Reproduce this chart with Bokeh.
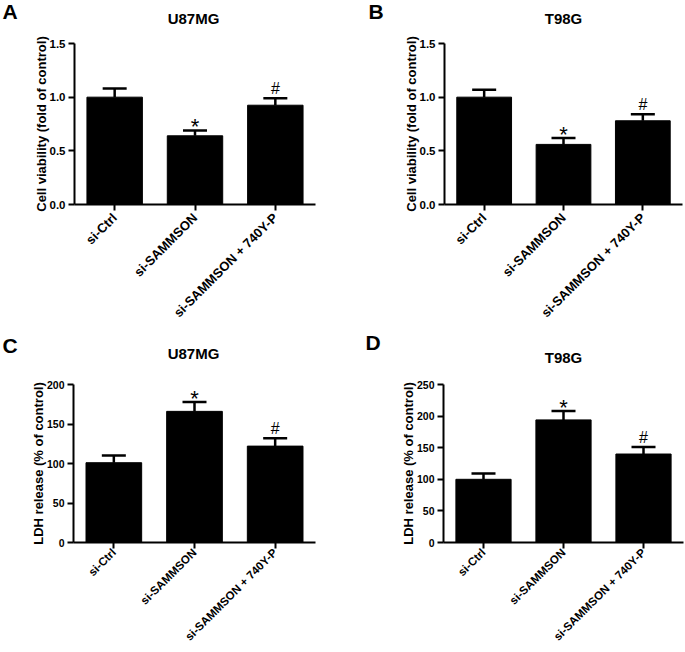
from bokeh.plotting import figure
from bokeh.layouts import column, row
from bokeh.models import (Range1d, FactorRange, FixedTicker, Whisker, TeeHead,
                          ColumnDataSource, PrintfTickFormatter, BasicTickFormatter)
from bokeh.core.properties import value
from bokeh.embed import file_html
from bokeh.resources import INLINE

# ---------------- data ----------------
categories = ["si-Ctrl", "si-SAMMSON", "si-SAMMSON + 740Y-P"]
marks = ["", "*", "#"]

a_means = [1.00, 0.64, 0.925]
a_upper = [1.08, 0.69, 0.99]
b_means = [1.00, 0.56, 0.78]
b_upper = [1.07, 0.62, 0.84]
c_means = [101, 166, 122]
c_upper = [110, 178, 132]
d_means = [100, 194, 140]
d_upper = [109, 208, 151]

viability_ticks = [0, 0.5, 1.0, 1.5]
ldh_ticks_c = [0, 50, 100, 150, 200]
ldh_ticks_d = [0, 50, 100, 150, 200, 250]

panel_letters = ["A", "B", "C", "D"]
panel_titles = ["U87MG", "T98G", "U87MG", "T98G"]
ylabels = ["Cell viability (fold of control)", "LDH release (% of control)"]

FONT = "Liberation Sans"
mark_style = {"*": ("22px", 9), "#": ("16px", -1)}
TOTAL_W = 684


def panel(ylabel, means, upper, ticks, fmt, W, H, bl, br, bt, bb, tick_fs, xlab_fs, xstand):
    y0, y1 = ticks[0], ticks[-1]
    p = figure(width=W, height=H, output_backend="svg", toolbar_location=None,
               x_range=FactorRange(factors=categories, range_padding=0),
               y_range=Range1d(y0, y1),
               min_border_left=bl, min_border_right=br,
               min_border_top=bt, min_border_bottom=bb,
               background_fill_color="white", border_fill_color="white")
    p.outline_line_color = None
    p.grid.visible = False

    src = ColumnDataSource(dict(cat=categories, top=means, upper=upper))
    p.vbar(x="cat", top="top", width=0.69, source=src,
           fill_color="black", line_color="black", line_width=1)
    wh = Whisker(source=src, base="cat", upper="upper", lower="top",
                 dimension="height", line_color="black", line_width=2.5,
                 upper_head=TeeHead(size=24, line_color="black", line_width=2.5),
                 lower_head=None)
    p.add_layout(wh)

    for sym, (fs, dy) in mark_style.items():
        idx = [i for i, m in enumerate(marks) if m == sym]
        msrc = ColumnDataSource(dict(cat=[categories[i] for i in idx],
                                     upper=[upper[i] for i in idx],
                                     mark=[marks[i] for i in idx]))
        p.text(x="cat", y="upper", text="mark", source=msrc,
               text_font=value(FONT), text_font_size=fs, text_color="black",
               text_align="center", text_baseline="bottom", y_offset=dy)

    for ax in (p.xaxis[0], p.yaxis[0]):
        ax.axis_line_width = 2
        ax.axis_line_color = "black"
        ax.major_tick_line_width = 2
        ax.major_tick_line_color = "black"
        ax.major_tick_out = 6
        ax.major_tick_in = 0
        ax.minor_tick_line_color = None
        ax.major_label_text_font = FONT
        ax.major_label_text_font_style = "bold"
        ax.major_label_text_color = "black"

    p.yaxis.ticker = FixedTicker(ticks=ticks)
    p.yaxis.formatter = fmt
    p.yaxis.major_label_text_font_size = tick_fs
    p.yaxis.major_label_standoff = 3
    p.yaxis.axis_label = ylabel
    p.yaxis.axis_label_text_font = FONT
    p.yaxis.axis_label_text_font_style = "bold"
    p.yaxis.axis_label_text_font_size = "13px"
    p.yaxis.axis_label_text_color = "black"
    p.yaxis.axis_label_standoff = -2

    p.xaxis.major_label_orientation = 0.785398
    p.xaxis.major_label_text_font_size = xlab_fs
    p.xaxis.major_label_standoff = xstand
    return p


def header(h, letters, letter_x, letter_y, titles, title_x, title_y):
    hp = figure(width=TOTAL_W, height=h, output_backend="svg", toolbar_location=None,
                x_range=Range1d(0, TOTAL_W), y_range=Range1d(h, 0),
                x_axis_type=None, y_axis_type=None, min_border=0,
                background_fill_color="white", border_fill_color="white")
    hp.outline_line_color = None
    hp.grid.visible = False
    hp.text(x=letter_x, y=letter_y, text=letters, text_font=value(FONT),
            text_font_style="bold", text_font_size="21px", text_color="black",
            text_align="left", text_baseline="middle")
    hp.text(x=title_x, y=title_y, text=titles, text_font=value(FONT),
            text_font_style="bold", text_font_size="15px", text_color="black",
            text_align="center", text_baseline="middle")
    return hp


h1 = header(30, panel_letters[:2], [2, 368], [11, 11], panel_titles[:2], [193, 563], [18, 18])
pa = panel(ylabels[0], a_means, a_upper, viability_ticks, PrintfTickFormatter(format="%.1f"),
           340, 300, 74, 25, 12, 126, "11.5px", "13px", 5)
pb = panel(ylabels[0], b_means, b_upper, viability_ticks, PrintfTickFormatter(format="%.1f"),
           344, 300, 104, 2, 13, 126, "11.5px", "13px", 5)

h2 = header(36, panel_letters[2:], [2, 365], [15, 12], panel_titles[2:], [193, 563], [23, 27])
pc = panel(ylabels[1], c_means, c_upper, ldh_ticks_c, BasicTickFormatter(),
           340, 284, 73, 25, 16, 108, "10.5px", "11.5px", 2)
pd_ = panel(ylabels[1], d_means, d_upper, ldh_ticks_d, BasicTickFormatter(),
            344, 284, 103, 1, 18, 106, "10.5px", "11.5px", 2)

layout = column(h1, row(pa, pb), h2, row(pc, pd_))
open("out.html", "w").write(file_html(layout, INLINE))
